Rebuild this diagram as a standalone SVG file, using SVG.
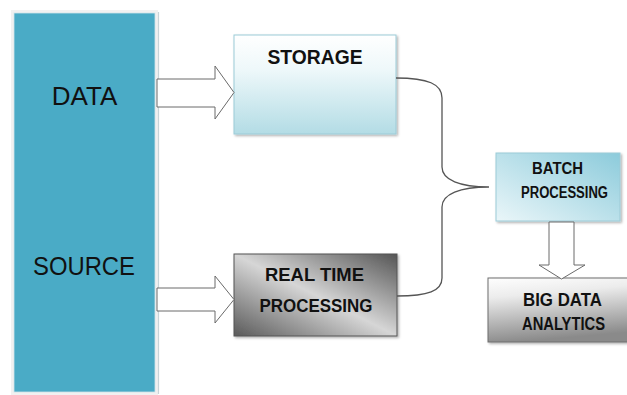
<svg xmlns="http://www.w3.org/2000/svg" width="627" height="395" viewBox="0 0 627 395">
  <defs>
    <linearGradient id="gStorage" x1="0" y1="0" x2="0" y2="1">
      <stop offset="0" stop-color="#ffffff"/>
      <stop offset="0.35" stop-color="#eef8fa"/>
      <stop offset="1" stop-color="#b3dce5"/>
    </linearGradient>
    <linearGradient id="gReal" x1="1" y1="0" x2="0" y2="1">
      <stop offset="0" stop-color="#555555"/>
      <stop offset="0.5" stop-color="#d6d6d6"/>
      <stop offset="1" stop-color="#5a5a5a"/>
    </linearGradient>
    <linearGradient id="gBatch" x1="1" y1="0" x2="0" y2="1">
      <stop offset="0" stop-color="#8ccbdb"/>
      <stop offset="1" stop-color="#eaf6f9"/>
    </linearGradient>
    <linearGradient id="gBig" x1="0" y1="0" x2="0.2" y2="1">
      <stop offset="0" stop-color="#fefefe"/>
      <stop offset="0.3" stop-color="#ececec"/>
      <stop offset="1" stop-color="#8a8a8a"/>
    </linearGradient>
    <filter id="shadow" x="-10%" y="-10%" width="130%" height="130%">
      <feDropShadow dx="1.5" dy="1.5" stdDeviation="1" flood-color="#000" flood-opacity="0.3"/>
    </filter>
  </defs>
  <style>
    .lbl { font-family: "Liberation Sans", Arial, sans-serif; fill: #111; text-anchor: middle; }
    .big { font-size: 26px; }
    .bold { font-weight: bold; }
    .arrow { fill: #ffffff; stroke: #6a6a6a; stroke-width: 1; }
    .brace { fill: none; stroke: #555; stroke-width: 1.3; }
    .box { stroke-width: 1; }
  </style>
  <rect width="627" height="395" fill="#ffffff"/>

  <g id="data-source">
    <rect x="11" y="10" width="147" height="385" fill="#f1f1f1"/>
    <line x1="158.5" y1="12" x2="158.5" y2="394" stroke="#c9d4d8" stroke-width="1.2"/>
    <rect x="14" y="13" width="141" height="379" fill="#4aabc6" stroke="#cfe3e9" stroke-width="0.8"/>
    <text class="lbl big" x="84.5" y="105">DATA</text>
    <text class="lbl big" x="84" y="275" textLength="102" lengthAdjust="spacingAndGlyphs">SOURCE</text>
  </g>

  <g id="storage">
    <rect class="box" x="234" y="35" width="162" height="99" fill="url(#gStorage)" stroke="#9ccbd7" filter="url(#shadow)"/>
    <text class="lbl bold" x="315" y="64" font-size="21" textLength="95" lengthAdjust="spacingAndGlyphs">STORAGE</text>
  </g>

  <g id="real-time-processing">
    <rect class="box" x="234" y="254" width="163" height="82" fill="url(#gReal)" stroke="#555" filter="url(#shadow)"/>
    <text class="lbl bold" x="314.5" y="281" font-size="19" textLength="99" lengthAdjust="spacingAndGlyphs">REAL TIME</text>
    <text class="lbl bold" x="316" y="312" font-size="19" textLength="113" lengthAdjust="spacingAndGlyphs">PROCESSING</text>
  </g>

  <g id="batch-processing">
    <rect class="box" x="496" y="153" width="124" height="68" fill="url(#gBatch)" stroke="#9ccbd7" filter="url(#shadow)"/>
    <text class="lbl bold" x="557.5" y="174" font-size="16" textLength="51" lengthAdjust="spacingAndGlyphs">BATCH</text>
    <text class="lbl bold" x="564.5" y="198" font-size="16" textLength="87" lengthAdjust="spacingAndGlyphs">PROCESSING</text>
  </g>

  <g id="big-data-analytics">
    <rect class="box" x="488" y="278" width="145" height="64" fill="url(#gBig)" stroke="#6e6e6e" filter="url(#shadow)"/>
    <text class="lbl bold" x="562.5" y="306" font-size="18" textLength="79" lengthAdjust="spacingAndGlyphs">BIG DATA</text>
    <text class="lbl bold" x="563.5" y="330" font-size="18" textLength="83" lengthAdjust="spacingAndGlyphs">ANALYTICS</text>
  </g>

  <g id="connectors">
    <path class="arrow" d="M157,79 L215,79 L215,66 L234,92.5 L215,119 L215,107 L157,107 Z"/>
    <path class="arrow" d="M157,288 L215,288 L215,276 L234,299.5 L215,323 L215,311 L157,311 Z"/>
    <path class="arrow" d="M549,222 L574,222 L574,265 L585,265 L561.5,279 L539,265 L549,265 Z"/>
    <path class="brace" d="M396,78 C428,78 442,84 442,98 L442,167 C442,180 460,187 489,187 C460,187 442,194 442,207 L442,278 C442,291 428,296 397,296"/>
  </g>
</svg>
